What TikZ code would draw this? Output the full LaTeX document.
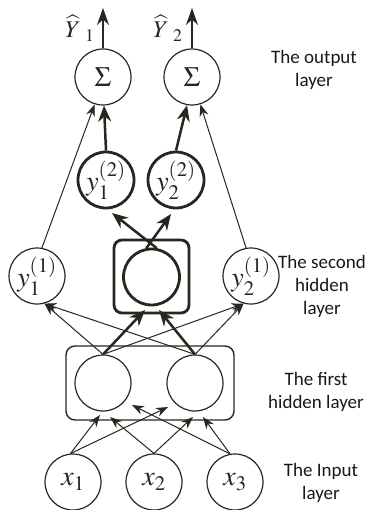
\documentclass[tikz,border=0pt]{standalone}
\usepackage{mathptmx}
\usepackage[no-math]{fontspec}
\newfontfamily\labfont{Carlito}
\usetikzlibrary{arrows.meta}
\definecolor{ink}{RGB}{40,38,30}
\definecolor{labink}{RGB}{25,25,25}
\begin{document}
\begin{tikzpicture}[x=1pt,y=-1pt,
  thinc/.style={circle, draw=ink, line width=1.2pt, minimum size=56pt, inner sep=0pt, text=ink, font=\fontsize{28}{30}\selectfont},
  thickc/.style={circle, draw=ink, line width=2.8pt, minimum size=56pt, inner sep=0pt, text=ink, font=\fontsize{28}{30}\selectfont},
  tarrow/.style={draw=ink, line width=1pt, -{Stealth[length=12pt,width=9pt]}},
  karrow/.style={draw=ink, line width=2.5pt, -{Stealth[length=16pt,width=13pt]}},
  oarrow/.style={draw=ink, line width=1.8pt, -{Stealth[length=17pt,width=12pt]}},
  lab/.style={align=center, text=labink, font=\labfont\fontsize{19}{23}\selectfont},
  yhat/.style={anchor=base west, text=ink, font=\fontsize{24}{26}\selectfont, inner sep=0pt}
]
\useasboundingbox (0,0) rectangle (366,510);
\fill[white] (0,0) rectangle (366,510);

% output layer
\node[thinc] (S1) at (103,77) {$\Sigma$};
\node[thinc] (S2) at (192,77) {$\Sigma$};
\coordinate (o1) at (103,8);
\coordinate (o2) at (192,8);
\node[yhat] (Y1) at (65,38) {$\widehat{Y}_{\hspace{9pt}1}$};
\node[yhat] (Y2) at (153,38) {$\widehat{Y}_{\hspace{9pt}2}$};

% second hidden layer outputs
\node[thickc] (y12) at (106,180) {$y_1^{(2)}$};
\node[thickc] (y22) at (176,180) {$y_2^{(2)}$};

% second hidden layer
\node[thinc] (y11) at (37,276) {$y_1^{(1)}$};
\node[thinc] (y21) at (251,276) {$y_2^{(1)}$};
\node[draw=ink, line width=2.8pt, rounded corners=8pt, minimum width=75pt, minimum height=73pt, inner sep=0pt] (box2) at (151.5,276.5) {};
\node[thickc] (hc) at (151.5,277) {};

% first hidden layer
\node[draw=ink, line width=1.4pt, rounded corners=9pt, minimum width=168pt, minimum height=74pt, inner sep=0pt] (box1) at (150,383) {};
\node[thinc] (h1) at (103,383) {};
\node[thinc] (h2) at (195,383) {};

% input layer
\node[thinc] (x1) at (73,482) {$x_1$};
\node[thinc] (x2) at (154,482) {$x_2$};
\node[thinc] (x3) at (235,482) {$x_3$};

% labels
\node[lab] (L1) at (314,70) {The output\\layer};
\node[lab] (L2) at (322,286) {The second\\hidden\\layer};
\node[lab] (L3) at (316,392) {The first\\hidden layer};
\node[lab] (L4) at (321,483) {The Input\\layer};

% connector end points
\coordinate (t12) at (112,213);
\coordinate (t22) at (171,214);
\coordinate (b2a) at (145,310);
\coordinate (b2b) at (159,310);
\coordinate (a11) at (100,415);
\coordinate (a21) at (110,417);
\coordinate (a31) at (132,405);
\coordinate (a12) at (168,407);
\coordinate (a22) at (193,417);
\coordinate (a32) at (203,417);

% output arrows
\draw[oarrow] (S1.north) -- (o1);
\draw[oarrow] (S2.north) -- (o2);

% into output layer
\draw[tarrow] (y11.80) -- (S1.-107);
\draw[karrow] (y12.north) -- (S1.-88);
\draw[karrow] (y22.north) -- (S2.-100);
\draw[tarrow] (y21.100) -- (S2.-73);

% second hidden box to y^(2)
\draw[karrow] (hc.80) -- (t12);
\draw[karrow] (hc.100) -- (t22);

% first hidden to second hidden
\draw[tarrow] (h1.north) -- (y11.-75);
\draw[tarrow] (h2.north) -- (y11.-75);
\draw[tarrow] (h1.north) -- (y21.-105);
\draw[tarrow] (h2.north) -- (y21.-105);
\draw[karrow] (h1.north) -- (b2a);
\draw[karrow] (h2.north) -- (b2b);

% inputs to first hidden
\draw[tarrow] (x1.95) -- (a11);
\draw[tarrow] (x1.95) -- (a12);
\draw[tarrow] (x2.north) -- (a21);
\draw[tarrow] (x2.north) -- (a22);
\draw[tarrow] (x3.100) -- (a31);
\draw[tarrow] (x3.100) -- (a32);
\end{tikzpicture}
\end{document}
